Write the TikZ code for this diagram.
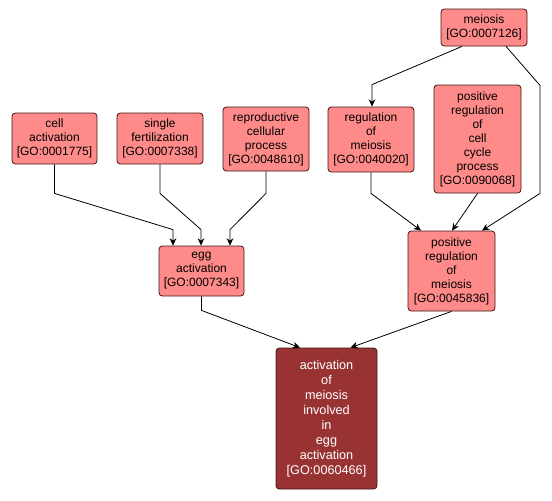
\documentclass[tikz,border=0pt]{standalone}
\usepackage{fontspec}
\setmainfont{Liberation Sans}
\usetikzlibrary{arrows.meta,calc}
\definecolor{nodefill}{RGB}{255,138,138}
\definecolor{actfill}{RGB}{153,51,51}
\definecolor{nodeedge}{RGB}{70,20,20}
\begin{document}
\begin{tikzpicture}[x=0.75pt,y=-0.75pt,
  go/.style={draw=nodeedge, fill=nodefill, rounded corners=2.5pt, align=center, inner sep=0pt,
    font=\fontsize{9}{10.5}\selectfont, line width=0.6pt},
  goact/.style={go, fill=actfill, text=white, font=\fontsize{9.5}{11.25}\selectfont},
  arr/.style={draw=black, line width=0.6pt, -{Stealth[length=5.5pt,width=5pt]}}]
\useasboundingbox[fill=white] (0,0) rectangle (552,500);
\node[go, minimum width=85*0.75pt, minimum height=51*0.75pt] (ca) at (54.5,138.5) {cell\\activation\\{[GO:0001775]}};
\node[go, minimum width=86*0.75pt, minimum height=51*0.75pt] (sf) at (160,138.5) {single\\fertilization\\{[GO:0007338]}};
\node[go, minimum width=86*0.75pt, minimum height=64*0.75pt] (rcp) at (266,139) {reproductive\\cellular\\process\\{[GO:0048610]}};
\node[go, minimum width=85*0.75pt, minimum height=50*0.75pt] (ea) at (201.5,271) {egg\\activation\\{[GO:0007343]}};
\node[go, minimum width=86*0.75pt, minimum height=37*0.75pt] (mei) at (484,27.5) {meiosis\\{[GO:0007126]}};
\node[go, minimum width=86*0.75pt, minimum height=65*0.75pt] (rm) at (371,139.5) {regulation\\of\\meiosis\\{[GO:0040020]}};
\node[go, minimum width=87*0.75pt, minimum height=108*0.75pt] (prc) at (477.5,139) {positive\\regulation\\of\\cell\\cycle\\process\\{[GO:0090068]}};
\node[go, minimum width=87*0.75pt, minimum height=80*0.75pt] (prm) at (451.5,271) {positive\\regulation\\of\\meiosis\\{[GO:0045836]}};
\node[goact, minimum width=101*0.75pt, minimum height=141*0.75pt] (act) at (326.5,418.5) {activation\\of\\meiosis\\involved\\in\\egg\\activation\\{[GO:0060466]}};
% edges into egg activation
\draw[arr] (ca.south) -- ++(0,29) -- ($(ea.north)+(-28.5,-16)$) -- ($(ea.north)+(-28.5,0)$);
\draw[arr] (sf.south) -- ++(0,29) -- ($(ea.north)+(-0.5,-16)$) -- ($(ea.north)+(-0.5,0)$);
\draw[arr] (rcp.south) -- ++(0,22) -- ($(ea.north)+(28.5,-16)$) -- ($(ea.north)+(28.5,0)$);
% meiosis branch
\draw[arr] ($(mei.south)+(-22,0)$) -- ($(rm.north)+(1,-22)$) -- ($(rm.north)+(1,0)$);
\draw[arr] ($(mei.south)+(22,0)$) -- ($(mei.south)+(56,39)$) -- ($(mei.south)+(56,147)$) -- ($(prm.north)+(30.5,0)$);
\draw[arr] (rm.south) -- ++(0,21) -- ($(prm.north)+(-30.5,0)$);
\draw[arr] (prc.south) -- ($(prm.north)+(0.5,0)$);
% into activation
\draw[arr] (ea.south) -- ++(0,14) -- ($(act.north)+(-26.5,0)$);
\draw[arr] (prm.south) -- ($(act.north)+(24,0)$);
\end{tikzpicture}
\end{document}
